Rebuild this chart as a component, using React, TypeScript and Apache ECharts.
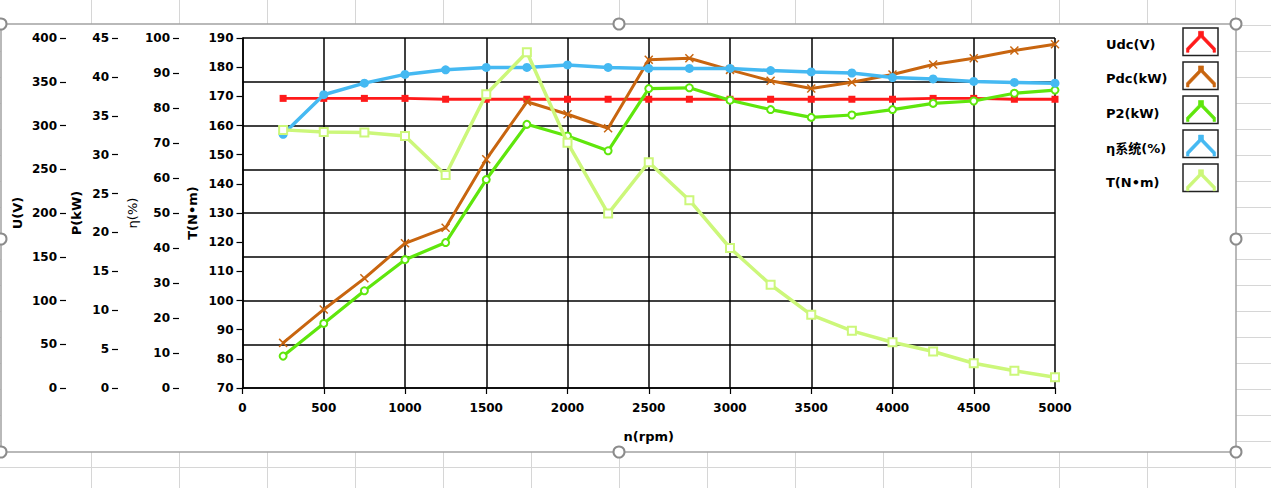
import React, { useEffect, useRef } from "react";
import * as echarts from "echarts";

// ---- data ----
const speeds = [250, 500, 750, 1000, 1250, 1500, 1750, 2000, 2250, 2500, 2750, 3000, 3250, 3500, 3750, 4000, 4250, 4500, 4750, 5000];
const udc = [331, 331, 331, 331, 330, 330, 330, 330, 330, 330, 330, 330, 330, 330, 330, 330, 331, 331, 330, 330];
const pdc = [5.8, 10.1, 14.1, 18.6, 20.6, 29.4, 36.8, 35.2, 33.4, 42.2, 42.4, 40.9, 39.5, 38.5, 39.3, 40.3, 41.6, 42.4, 43.4, 44.2];
const p2 = [4.1, 8.3, 12.5, 16.5, 18.7, 26.8, 33.9, 32.4, 30.5, 38.5, 38.6, 37.0, 35.8, 34.8, 35.1, 35.8, 36.6, 36.9, 37.9, 38.3];
const eta = [72.5, 83.8, 87.1, 89.6, 90.9, 91.6, 91.6, 92.3, 91.6, 91.3, 91.3, 91.3, 90.7, 90.3, 90.0, 88.7, 88.3, 87.6, 87.3, 87.1];
const torque = [158.5, 157.8, 157.6, 156.4, 143.0, 170.7, 185.1, 154.1, 129.8, 147.4, 134.4, 118.0, 105.4, 95.1, 89.6, 85.7, 82.5, 78.5, 75.9, 73.7];

const seriesNames = ["Udc(V)", "Pdc(kW)", "P2(kW)", "η系统(%)", "T(N•m)"];
const seriesColors = ["#ff1a1a", "#c8650f", "#5fe60c", "#45b9f2", "#ccf77a"];

const xRange = [0, 5000, 500];
const uRange = [0, 400, 50];
const pRange = [0, 45, 5];
const etaRange = [0, 100, 10];
const tRange = [70, 190, 10];
const axisNames = ["U(V)", "P(kW)", "η(%)", "T(N•m)"];
const xName = "n(rpm)";

const FONT = "'DejaVu Sans', 'Noto Sans CJK SC', sans-serif";
const CHEVRON =
  "path://M12.5 0H17.5V4.5H12.5ZM0.5 17L15 2L29.5 17V21H27V18.8L15 6.3L3 18.8V21H0.5Z";
const XMARK = "path://M0 0L10 10M10 0L0 10";

function pairs(ys: number[]) {
  return speeds.map((x, i) => [x, ys[i]]);
}

const plainLabel = (v: number) => String(v);

function yAxisDef(range: number[], name: string, offset: number, nameGap: number, bold: boolean, showLine: boolean) {
  return {
    type: "value",
    position: "left",
    offset,
    min: range[0],
    max: range[1],
    interval: range[2],
    name,
    nameLocation: "middle",
    nameGap,
    nameRotate: 90,
    nameMoveOverlap: false,
    nameTextStyle: { color: "#000", fontFamily: FONT, fontSize: 13, fontWeight: bold ? "bold" : "normal" },
    axisLine: { show: showLine, onZero: false, lineStyle: { color: "#000", width: 1.5 } },
    axisTick: { show: true, length: 6, lineStyle: { color: "#000", width: 1.2 } },
    axisLabel: { margin: 9, color: "#000", fontFamily: FONT, fontSize: 12, fontWeight: "bold", formatter: plainLabel },
    splitLine: { show: false },
  };
}

function buildGraphic() {
  const els: any[] = [];
  for (let k = 0; k < 14; k++) {
    const x = 91.5 + 88 * k;
    els.push({ type: "line", z: -20, shape: { x1: x, y1: 0, x2: x, y2: 488 }, style: { stroke: "#d6d6d6", lineWidth: 1 } });
  }
  for (let k = 0; k < 18; k++) {
    const y = 25.5 + 26 * k;
    els.push({ type: "line", z: -20, shape: { x1: 0, y1: y, x2: 1271, y2: y }, style: { stroke: "#d6d6d6", lineWidth: 1 } });
  }
  els.push({
    type: "rect", z: -10,
    shape: { x: 1, y: 24, width: 1235, height: 428 },
    style: { fill: "#fff", stroke: "#a3a3a3", lineWidth: 1.5 },
  });
  const handles = [[1, 24], [619, 24], [1236, 24], [1236, 239], [1236, 452], [619, 452], [1, 452], [1, 239]];
  handles.forEach(([cx, cy]) => {
    els.push({ type: "circle", z: 100, shape: { cx, cy, r: 5.5 }, style: { fill: "#fff", stroke: "#8c8c8c", lineWidth: 2 } });
  });
  for (let k = 0; k < seriesNames.length; k++) {
    els.push({
      type: "rect", z: 3,
      shape: { x: 1183, y: 28 + 34 * k, width: 35, height: 27.5 },
      style: { fill: "none", stroke: "#222", lineWidth: 1.5 },
    });
  }
  return els;
}

export default function App() {
  const ref = useRef<HTMLDivElement>(null);
  useEffect(() => {
    if (!ref.current) return;
    const chart = echarts.init(ref.current, undefined, { renderer: "svg" });
    const symbols = ["rect", XMARK, "emptyCircle", "circle", "emptyRect"];
    const sizes = [7, 8, 7, 9, 8];
    const datas = [udc, pdc, p2, eta, torque];
    const axisIdx = [0, 1, 1, 2, 3];
    const widths = [2.8, 3, 3.2, 3.5, 3.5];
    const option: any = {
      animation: false,
      backgroundColor: "transparent",
      textStyle: { fontFamily: FONT },
      grid: { left: 242.5, top: 38, width: 812.5, height: 350, containLabel: false, outerBoundsMode: "none" },
      legend: {
        orient: "vertical",
        left: 1106,
        top: 31,
        padding: 0,
        align: "right",
        itemWidth: 30,
        itemHeight: 21,
        itemGap: 13,
        icon: CHEVRON,
        data: seriesNames,
        itemStyle: { borderWidth: 0.6 },
        formatter: (name: string) => `{t|${name}}`,
        textStyle: {
          color: "#000",
          fontFamily: FONT,
          fontSize: 13,
          fontWeight: "bold",
          rich: { t: { width: 75, align: "left", padding: [5, 0, 0, 0], color: "#000", fontFamily: FONT, fontSize: 13, fontWeight: "bold" } },
        },
      },
      xAxis: {
        type: "value",
        min: xRange[0],
        max: xRange[1],
        interval: xRange[2],
        name: xName,
        nameLocation: "middle",
        nameGap: 42,
        nameMoveOverlap: false,
        nameTextStyle: { color: "#000", fontFamily: FONT, fontSize: 13, fontWeight: "bold" },
        axisLine: { show: true, onZero: false, lineStyle: { color: "#000", width: 1.5 } },
        axisTick: { show: true, length: 6, lineStyle: { color: "#000", width: 1.2 } },
        axisLabel: { margin: 14, color: "#000", fontFamily: FONT, fontSize: 12, fontWeight: "bold", formatter: plainLabel },
        splitLine: { show: true, lineStyle: { color: "#000", width: 1.5 } },
      },
      yAxis: [
        yAxisDef(uRange, axisNames[0], 176.5, 42, true, false),
        yAxisDef(pRange, axisNames[1], 124.5, 35, true, false),
        yAxisDef(etaRange, axisNames[2], 63.5, 40.5, false, false),
        yAxisDef(tRange, axisNames[3], 0, 43.5, true, true),
        {
          type: "value",
          position: "left",
          offset: 0,
          min: uRange[0],
          max: uRange[1],
          interval: uRange[2],
          axisLine: { show: false, onZero: false },
          axisTick: { show: false },
          axisLabel: { show: false },
          splitLine: { show: true, lineStyle: { color: "#000", width: 1.5 } },
        },
      ],
      graphic: { elements: buildGraphic() },
      series: seriesNames.map((name, i) => ({
        name,
        type: "line",
        yAxisIndex: axisIdx[i],
        data: pairs(datas[i]),
        color: seriesColors[i],
        symbol: symbols[i],
        symbolSize: sizes[i],
        showSymbol: true,
        lineStyle: { color: seriesColors[i], width: widths[i] },
        itemStyle: { color: seriesColors[i], borderColor: seriesColors[i], borderWidth: i === 3 || i === 0 ? 0 : 1.5 },
        emphasis: { disabled: true },
        z: 2 + i,
      })),
    };
    chart.setOption(option);
    return () => chart.dispose();
  }, []);
  return (
    <div
      ref={ref}
      style={{ position: "absolute", left: 0, top: 0, width: 1271, height: 488, background: "#fff" }}
    />
  );
}
